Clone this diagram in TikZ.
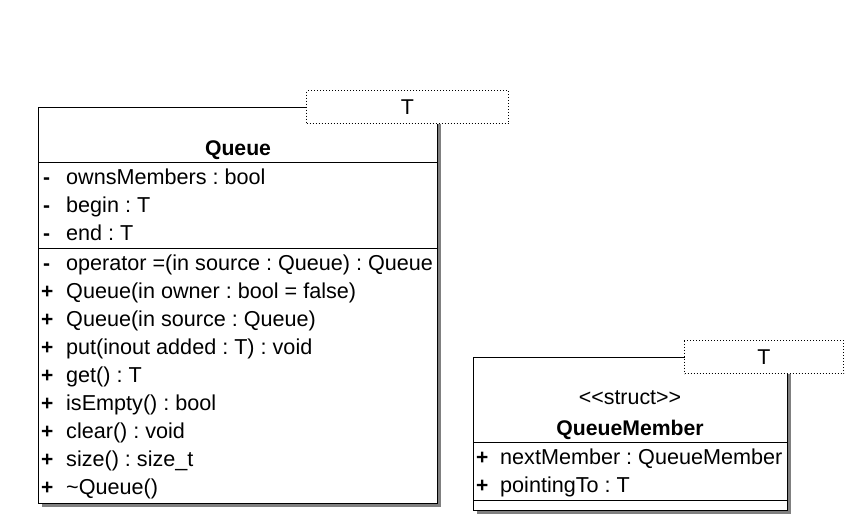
\documentclass[tikz,border=0pt]{standalone}
\usepackage{fontspec}
\setmainfont{Liberation Sans}[Ligatures=TeXOff]
\usetikzlibrary{shadows}
\frenchspacing
\begin{document}
\begin{tikzpicture}[x=1pt,y=-1pt,
  txt/.style={font=\fontsize{21.6}{24}\selectfont, inner sep=0pt, anchor=base west, text=black},
  vis/.style={font=\fontsize{21}{24}\selectfont\bfseries, inner sep=0pt, anchor=base west},
  ttl/.style={font=\fontsize{21.2}{24}\selectfont\bfseries, inner sep=0pt, anchor=base},
  stereo/.style={font=\fontsize{21.4}{24}\selectfont, inner sep=0pt, anchor=base},
  classbox/.style={draw=black, line width=1pt, fill=white, anchor=north west, inner sep=0pt,
     general shadow={fill=black!50, shadow xshift=3pt, shadow yshift=-3pt}},
  tmpl/.style={draw=black, line width=1pt, dash pattern=on 1pt off 2pt, fill=white, anchor=north west, inner sep=0pt,
     font=\fontsize{21.4}{24}\selectfont},
  sep/.style={draw=black, line width=1pt}
]
\useasboundingbox[fill=white] (0,0) rectangle (854,530);

% ---- Queue class ----
\node[classbox, minimum width=399pt, minimum height=396pt] (queue) at (38,107) {};
\draw[sep] (38,162) -- (437,162);
\draw[sep] (38,248) -- (437,248);
\node[tmpl, minimum width=202pt, minimum height=33pt] (qt) at (306,90) {T};

\node[ttl] (qtitle) at (238,155) {Queue};

\node[vis] (qv1) at (43,184) {-};
\node[txt] (qa1) at (66,184) {ownsMembers : bool};
\node[vis] (qv2) at (43,212) {-};
\node[txt] (qa2) at (66,212) {begin : T};
\node[vis] (qv3) at (43,240) {-};
\node[txt] (qa3) at (66,240) {end : T};

\node[vis] (qo1v) at (43,270) {-};
\node[txt] (qo1) at (66,270) {operator =(in source : Queue) : Queue};
\node[vis] (qo2v) at (41,298) {+};
\node[txt] (qo2) at (66,298) {Queue(in owner : bool = false)};
\node[vis] (qo3v) at (41,326) {+};
\node[txt] (qo3) at (66,326) {Queue(in source : Queue)};
\node[vis] (qo4v) at (41,354) {+};
\node[txt] (qo4) at (66,354) {put(inout added : T) : void};
\node[vis] (qo5v) at (41,382) {+};
\node[txt] (qo5) at (66,382) {get() : T};
\node[vis] (qo6v) at (41,410) {+};
\node[txt] (qo6) at (66,410) {isEmpty() : bool};
\node[vis] (qo7v) at (41,438) {+};
\node[txt] (qo7) at (66,438) {clear() : void};
\node[vis] (qo8v) at (41,466) {+};
\node[txt] (qo8) at (66,466) {size() : size\_t};
\node[vis] (qo9v) at (41,494) {+};
\node[txt] (qo9) at (66,494) {\char`\~Queue()};

% ---- QueueMember struct ----
\node[classbox, minimum width=314pt, minimum height=153pt] (qm) at (473,357) {};
\draw[sep] (473,442) -- (787,442);
\draw[sep] (473,500) -- (787,500);
\node[tmpl, minimum width=159pt, minimum height=33pt] (qmt) at (684,340) {T};

\node[stereo] (qmst) at (630,404) {<<struct>>};
\node[ttl] (qmtitle) at (630,435) {QueueMember};

\node[vis] (qmv1) at (476,464) {+};
\node[txt] (qma1) at (500,464) {nextMember : QueueMember};
\node[vis] (qmv2) at (476,492) {+};
\node[txt] (qma2) at (500,492) {pointingTo : T};
\end{tikzpicture}
\end{document}
